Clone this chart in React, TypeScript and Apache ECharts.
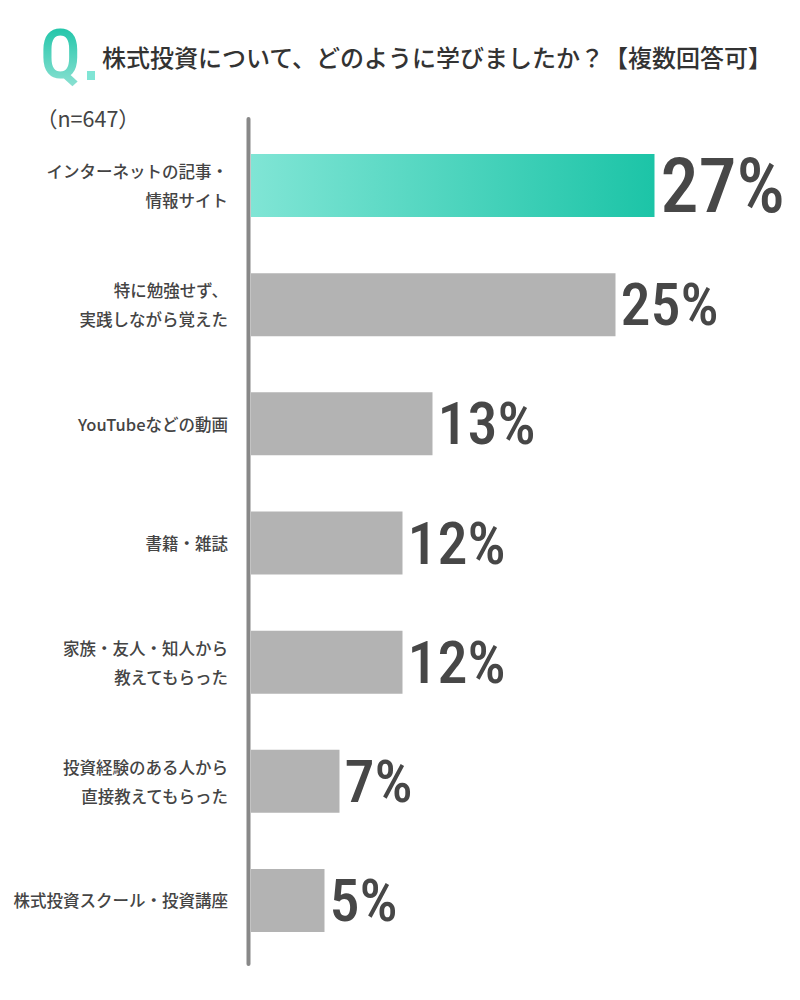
import React, { useEffect, useRef } from "react";
import * as echarts from "echarts";

const categories = [
  "インターネットの記事・\n情報サイト",
  "特に勉強せず、\n実践しながら覚えた",
  "YouTubeなどの動画",
  "書籍・雑誌",
  "家族・友人・知人から\n教えてもらった",
  "投資経験のある人から\n直接教えてもらった",
  "株式投資スクール・投資講座",
];
// bar lengths (%)
const shares = [26.9, 24.3, 12.1, 10.1, 10.1, 5.9, 4.9];
// labels printed at the bar ends
const shareLabels = ["27%", "25%", "13%", "12%", "12%", "7%", "5%"];

const titleText = "株式投資について、どのように学びましたか？【複数回答可】";
const sampleText = "（n=647）";

const CJK = "'Noto Sans CJK JP', 'Noto Sans', sans-serif";
const NUM = "'Roboto Condensed', 'DejaVu Sans Condensed', Roboto, sans-serif";

export default function App() {
  const ref = useRef<HTMLDivElement>(null);
  useEffect(() => {
    if (!ref.current) return;
    const chart = echarts.init(ref.current, undefined, { renderer: "svg" });
    const teal = new echarts.graphic.LinearGradient(0, 0, 1, 0, [
      { offset: 0, color: "#80e5d5" },
      { offset: 1, color: "#1cc4a7" },
    ]);
    const fade = new echarts.graphic.LinearGradient(0, 0, 0, 1, [
      { offset: 0, color: "rgba(255,255,255,0)" },
      { offset: 1, color: "rgba(255,255,255,0.5)" },
    ]);
    chart.setOption({
      animation: false,
      backgroundColor: "#ffffff",
      grid: { left: 251, top: 126, width: 540, height: 834, containLabel: false },
      xAxis: {
        type: "value",
        min: 0,
        max: 36,
        show: false,
      },
      yAxis: {
        type: "category",
        data: categories,
        inverse: true,
        axisLine: { show: false },
        axisTick: { show: false },
        axisLabel: {
          margin: 23,
          color: "#444",
          fontSize: 16.5,
          lineHeight: 29,
          fontFamily: CJK,
          fontWeight: 500,
          align: "right",
        },
      },
      series: [
        {
          type: "bar",
          barWidth: 63,
          data: shares.map((v, i) => ({
            value: v,
            itemStyle: { color: i === 0 ? teal : "#b3b3b3" },
            label: {
              show: true,
              position: "right",
              distance: i === 0 ? 6 : 5,
              formatter: () => shareLabels[i],
              fontSize: i === 0 ? 76 : 60,
              fontFamily: NUM,
              fontWeight: 500,
              color: "#474747",
            },
          })),
        },
      ],
      graphic: [
        {
          type: "line",
          shape: { x1: 248.5, y1: 119, x2: 248.5, y2: 964 },
          style: { stroke: "#888888", lineWidth: 4, lineCap: "round" },
        },
        {
          type: "text",
          x: 40,
          y: 55,
          style: {
            text: "Q",
            font: `500 68px ${NUM}`,
            fill: "#1cc4a7",
            textVerticalAlign: "middle",
          },
        },
        {
          type: "rect",
          shape: { x: 38, y: 24, width: 52, height: 64 },
          style: { fill: fade },
        },
        {
          type: "rect",
          shape: { x: 87, y: 71, width: 8, height: 9 },
          style: { fill: "#80e5d5" },
        },
        {
          type: "text",
          x: 102,
          y: 56,
          style: {
            text: titleText,
            font: `500 24px ${CJK}`,
            fill: "#333333",
            textVerticalAlign: "middle",
          },
        },
        {
          type: "text",
          x: 36,
          y: 117,
          style: {
            text: sampleText,
            font: `400 21.5px ${CJK}`,
            fill: "#444444",
            textVerticalAlign: "middle",
          },
        },
      ],
    });
    return () => chart.dispose();
  }, []);
  return (
    <div
      ref={ref}
      style={{ position: "fixed", left: 0, top: 0, width: 800, height: 1000 }}
    />
  );
}
